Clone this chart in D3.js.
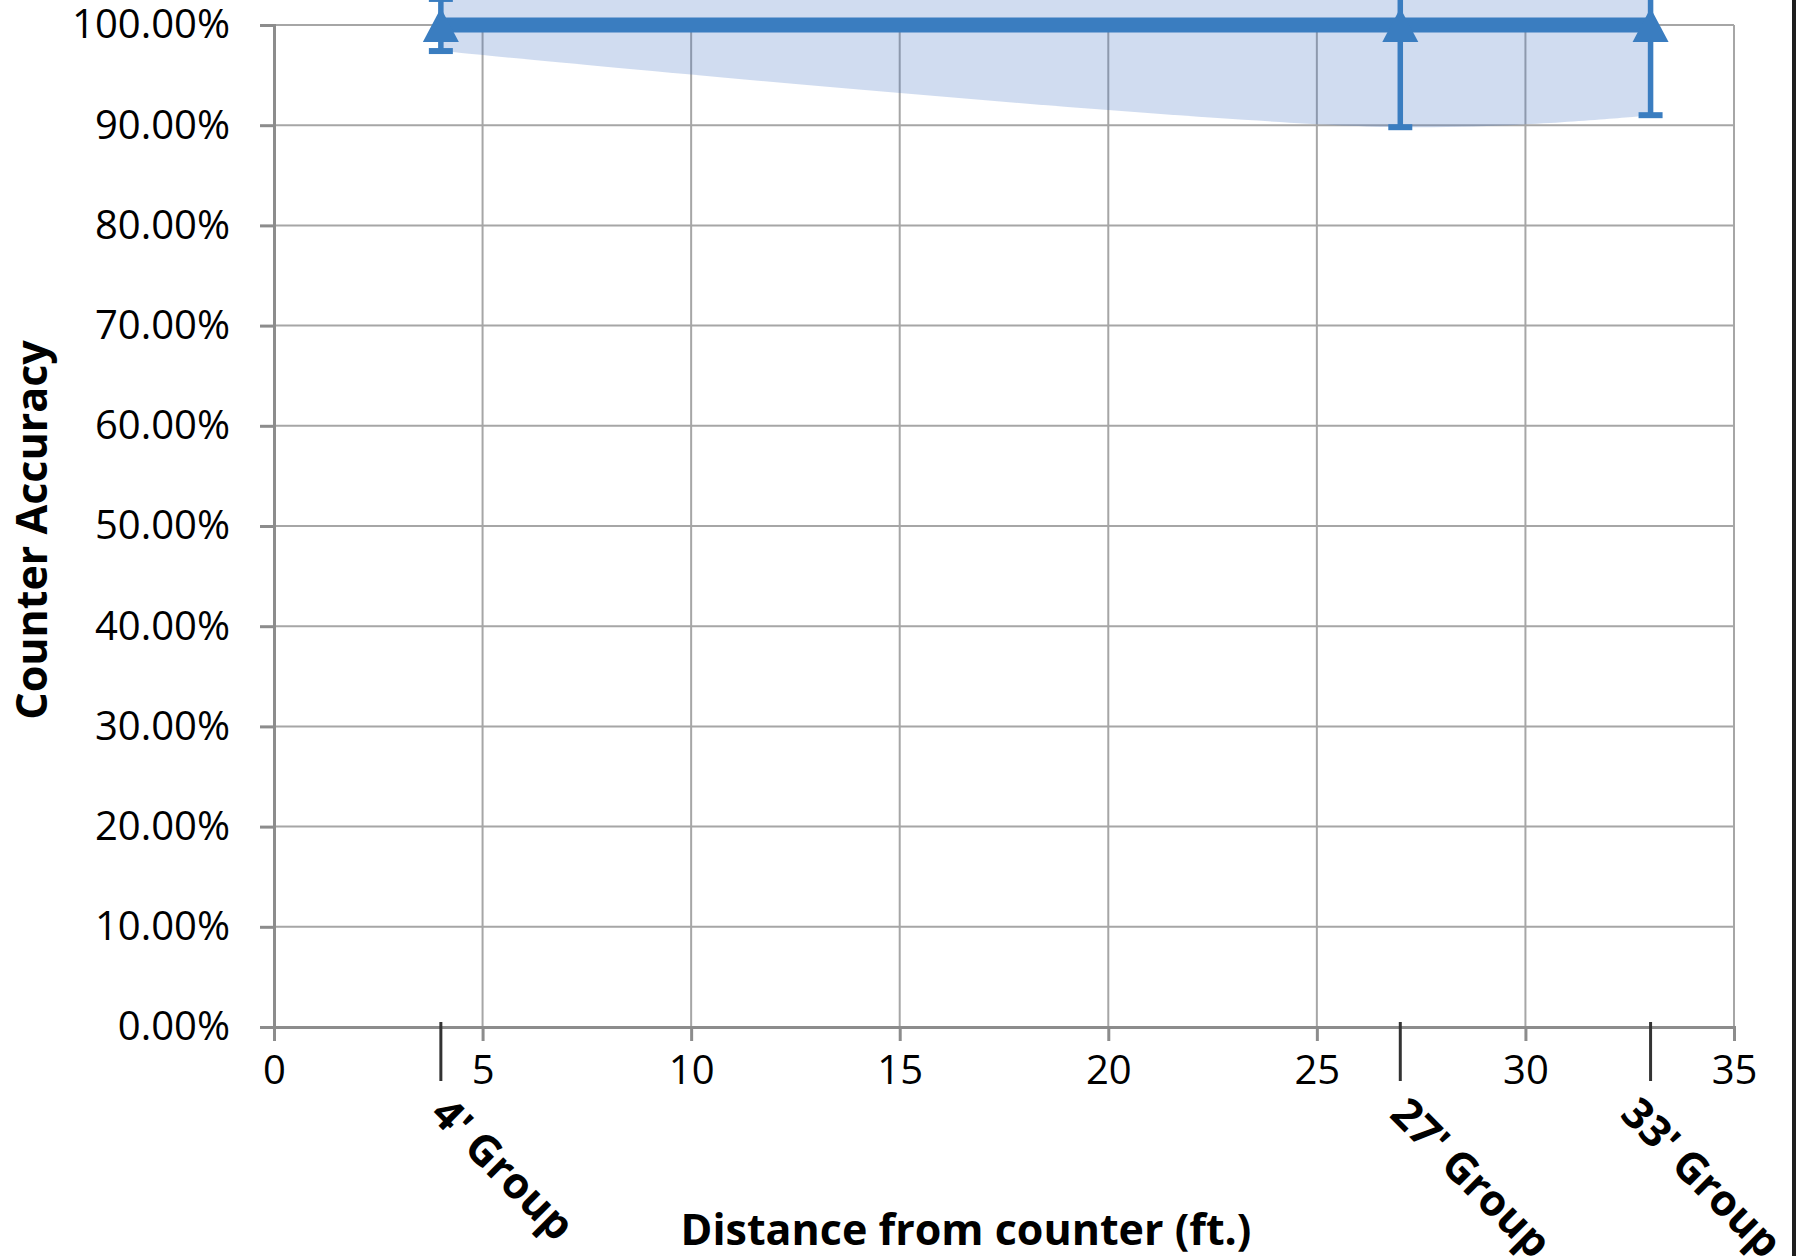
<!DOCTYPE html>
<html>
<head>
<meta charset="utf-8">
<script src="https://cdn.jsdelivr.net/npm/d3@7"></script>
<style>
  html, body { margin: 0; padding: 0; background: #fff; }
  svg { display: block; }
  text { font-family: "Open Sans", "Noto Sans", sans-serif; }
</style>
</head>
<body>
<script>
// ---- data ----
const groupLabels = ["4' Group", "27' Group", "33' Group"];
const groupDistance = [4, 27, 33];
const accuracy = [1.0, 1.0, 1.0];
const errorLow = [0.026, 0.102, 0.090];
const errorHigh = [0.026, 0.102, 0.090];
const xTicks = [0, 5, 10, 15, 20, 25, 30, 35];
const yTicks = [0, 0.1, 0.2, 0.3, 0.4, 0.5, 0.6, 0.7, 0.8, 0.9, 1.0];
const xTitle = "Distance from counter (ft.)";
const yTitle = "Counter Accuracy";

// ---- layout ----
const W = 1796, H = 1256;
const L = 274, R = 1734, T = 25, B = 1027;
const blue = "#3a7dc0";

const svg = d3.select("body").append("svg").attr("width", W).attr("height", H);

const x = d3.scaleLinear().domain([0, 35]).range([L, R]);
const y = d3.scaleLinear().domain([0, 1]).range([B, T]);

const rows = groupDistance.map((d, i) => ({
  d, v: accuracy[i], lo: accuracy[i] - errorLow[i], hi: accuracy[i] + errorHigh[i], label: groupLabels[i]
}));

// gridlines
svg.append("g").selectAll("line").data(yTicks.slice(1)).join("line")
  .attr("x1", L).attr("x2", R).attr("y1", d => y(d)).attr("y2", d => y(d))
  .attr("stroke", "#a6a6a6").attr("stroke-width", 2);
svg.append("g").selectAll("line").data(xTicks.slice(1)).join("line")
  .attr("x1", d => x(d)).attr("x2", d => x(d)).attr("y1", T).attr("y2", B)
  .attr("stroke", "#a6a6a6").attr("stroke-width", 2);

// confidence band
const band = d3.area()
  .x(d => x(d.d)).y0(d => y(d.lo)).y1(d => y(d.hi))
  .curve(d3.curveCatmullRom.alpha(0.5));
svg.append("path").datum(rows).attr("d", band)
  .attr("fill", "#4472c4").attr("fill-opacity", 0.25);

// axes
const yAxis = d3.axisLeft(y).tickValues(yTicks).tickFormat(d3.format(".2%")).tickSize(14).tickPadding(30);
const gy = svg.append("g").attr("transform", `translate(${L},0)`).call(yAxis);
gy.select(".domain").attr("stroke", "#8c8c8c").attr("stroke-width", 3);
gy.selectAll(".tick line").attr("stroke", "#8c8c8c").attr("stroke-width", 3);
gy.selectAll(".tick text").attr("font-size", 40).attr("fill", "#000")
  .attr("font-family", "'Open Sans', sans-serif");

const xAxis = d3.axisBottom(x).tickValues(xTicks).tickFormat(d3.format("d")).tickSize(14).tickPadding(15);
const gx = svg.append("g").attr("transform", `translate(0,${B})`).call(xAxis);
gx.select(".domain").attr("stroke", "#8c8c8c").attr("stroke-width", 3);
gx.selectAll(".tick line").attr("stroke", "#8c8c8c").attr("stroke-width", 3);
gx.selectAll(".tick text").attr("font-size", 40).attr("fill", "#000")
  .attr("font-family", "'Open Sans', sans-serif");

// category tick marks
svg.append("g").selectAll("line").data(rows).join("line")
  .attr("x1", d => x(d.d)).attr("x2", d => x(d.d))
  .attr("y1", B - 5).attr("y2", B + 54)
  .attr("stroke", "#333").attr("stroke-width", 3);

// line
const line = d3.line().x(d => x(d.d)).y(d => y(d.v));
svg.append("path").datum(rows).attr("d", line)
  .attr("fill", "none").attr("stroke", blue).attr("stroke-width", 15);

// error bars
const eb = svg.append("g").selectAll("g").data(rows).join("g");
eb.append("line")
  .attr("x1", d => x(d.d)).attr("x2", d => x(d.d))
  .attr("y1", d => y(d.lo)).attr("y2", d => y(d.hi))
  .attr("stroke", blue).attr("stroke-width", 5.5);
eb.append("line")
  .attr("x1", d => x(d.d) - 12).attr("x2", d => x(d.d) + 12)
  .attr("y1", d => y(d.lo)).attr("y2", d => y(d.lo))
  .attr("stroke", blue).attr("stroke-width", 6);
eb.append("line")
  .attr("x1", d => x(d.d) - 12).attr("x2", d => x(d.d) + 12)
  .attr("y1", d => y(d.hi)).attr("y2", d => y(d.hi))
  .attr("stroke", blue).attr("stroke-width", 6);

// triangle markers
const tw = 36, th = 34;
svg.append("g").selectAll("path").data(rows).join("path")
  .attr("d", d => {
    const cx = x(d.d), cy = y(d.v);
    return `M${cx},${cy - th / 2}L${cx + tw / 2},${cy + th / 2}L${cx - tw / 2},${cy + th / 2}Z`;
  })
  .attr("fill", blue);

// category labels (shifted left if they would run past the right edge)
const labelMaxRight = W;
svg.append("g").selectAll("text").data(rows).join("text")
  .attr("font-size", 43).attr("font-weight", "bold").attr("fill", "#000")
  .text(d => d.label)
  .each(function (d) {
    const t = d3.select(this);
    let tx = x(d.d) - 12;
    t.attr("transform", `translate(${tx},${B + 89}) rotate(45)`);
    const bb = this.getBoundingClientRect();
    if (bb.right > labelMaxRight) {
      tx -= (bb.right - labelMaxRight);
      t.attr("transform", `translate(${tx},${B + 89}) rotate(45)`);
    }
  });

// axis titles
svg.append("text")
  .attr("x", 966).attr("y", 1245).attr("text-anchor", "middle")
  .attr("font-size", 43).attr("font-weight", "bold").attr("fill", "#000")
  .text(xTitle);
svg.append("text")
  .attr("transform", `translate(47,530) rotate(-90)`).attr("text-anchor", "middle")
  .attr("font-size", 43).attr("font-weight", "bold").attr("fill", "#000")
  .text(yTitle);

// right border strip
svg.append("rect").attr("x", W - 4).attr("y", 0).attr("width", 4).attr("height", H).attr("fill", "#1e1e1e");
</script>
</body>
</html>
